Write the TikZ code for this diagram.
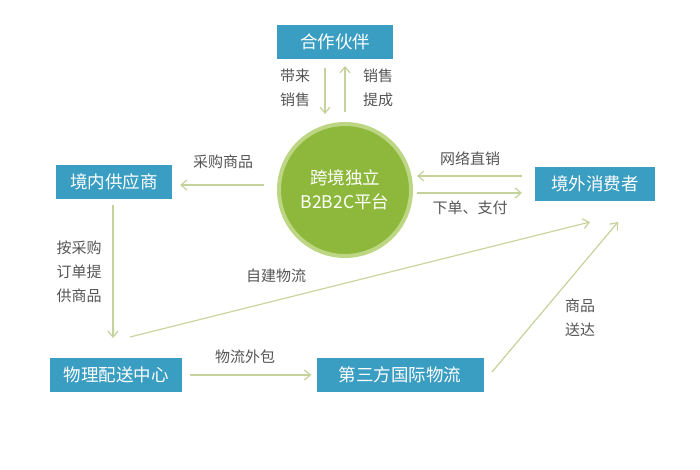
\documentclass[tikz,border=0pt]{standalone}
\usepackage{fontspec}
\setmainfont{Noto Sans CJK SC}
\usetikzlibrary{arrows.meta}
\definecolor{boxblue}{HTML}{3A9DC2}
\definecolor{circgreen}{HTML}{8DB83C}
\definecolor{circring}{HTML}{BCD684}
\definecolor{arrowc}{HTML}{C5D39A}
\definecolor{labelc}{HTML}{555555}
\tikzset{
  box/.style={fill=boxblue, text=white, font=\fontsize{17.5}{19}\selectfont, minimum height=34pt, inner xsep=8pt},
  lbl/.style={text=labelc, font=\fontsize{15}{24}\selectfont, align=center},
  conn/.style={draw=arrowc, line width=1.2pt, -{Straight Barb[length=6pt,width=10pt]}}
}
\begin{document}
\begin{tikzpicture}[x=1pt,y=-1pt]
\useasboundingbox (0,0) rectangle (700,470);
\node[box, minimum width=116pt] (partner) at (335,42) {合作伙伴};
\node[box, minimum width=116pt] (domsup) at (114,182) {境内供应商};
\node[box, minimum width=120pt] (consumer) at (595,184) {境外消费者};
\node[box, minimum width=132pt] (dc) at (116,375) {物理配送中心};
\node[box, minimum width=167pt] (tpl) at (400,375) {第三方国际物流};
\node[circle, fill=circgreen, draw=circring, line width=4pt, minimum size=132pt, text=white, font=\fontsize{17.5}{24}\selectfont, align=center, inner sep=0pt] (plat) at (345,190) {跨境独立\\B2B2C平台};

\coordinate (pd1) at (325,68); \coordinate (pd2) at (325,114);
\coordinate (pu1) at (345,112); \coordinate (pu2) at (345,66);
\draw[conn] (pd1) -- (pd2);
\draw[conn] (pu1) -- (pu2);
\node[lbl] (l1) at (295,88) {带来\\销售};
\node[lbl] (l2) at (378,88) {销售\\提成};

\coordinate (a1) at (264,185); \coordinate (a2) at (180,185);
\draw[conn] (a1) -- (a2);
\node[lbl] (l3) at (223,162) {采购商品};

\coordinate (b1) at (522,176); \coordinate (b2) at (417,176);
\draw[conn] (b1) -- (b2);
\node[lbl] (l4) at (470,159) {网络直销};
\coordinate (c1) at (417,193); \coordinate (c2) at (522,193);
\draw[conn] (c1) -- (c2);
\node[lbl] (l5) at (470,208) {下单、支付};

\coordinate (d1) at (113,205); \coordinate (d2) at (113,338);
\draw[conn] (d1) -- (d2);
\node[lbl] (l6) at (79,272) {按采购\\订单提\\供商品};

\coordinate (e1) at (130,337); \coordinate (e2) at (590,222);
\draw[conn] (e1) -- (e2);
\node[lbl] (l7) at (276,276) {自建物流};

\draw[conn, shorten <=8pt, shorten >=5pt] (dc) -- (tpl);
\node[lbl] (l8) at (245,357) {物流外包};

\coordinate (f1) at (492,372); \coordinate (f2) at (618,222);
\draw[conn] (f1) -- (f2);
\node[lbl] (l9) at (580,318) {商品\\送达};
\end{tikzpicture}
\end{document}
